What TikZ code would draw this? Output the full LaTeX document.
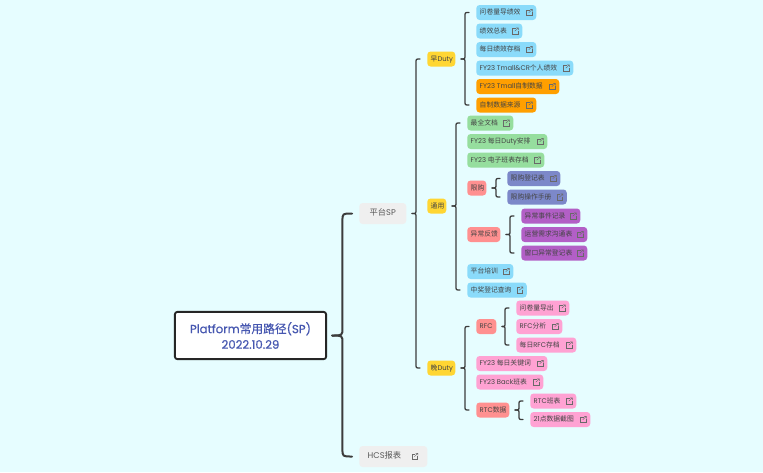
\documentclass[tikz,border=0pt]{standalone}
\usepackage{fontspec}
\usetikzlibrary{calc}
\setmainfont{Poppins}
\newfontfamily\cjk{Noto Sans CJK SC}
\newfontfamily\titlelatin[FakeBold=0.5]{Poppins}
\newfontfamily\titlecjk[FakeBold=0.5]{Noto Sans CJK SC}
\newcommand\Z[1]{{\cjk #1}}
\definecolor{bgc}{HTML}{E6FDFF}
\definecolor{cblue}{HTML}{8ADBFA}
\definecolor{corange}{HTML}{FF9F00}
\definecolor{cgreen}{HTML}{96DE9E}
\definecolor{cindigo}{HTML}{7C88C9}
\definecolor{cpurple}{HTML}{B25FC6}
\definecolor{cpink}{HTML}{FFA2D3}
\definecolor{csalmon}{HTML}{FF9090}
\definecolor{cyellow}{HTML}{FFD633}
\definecolor{cgrey}{HTML}{EFEFEF}
\definecolor{ctitle}{HTML}{4657B0}
\definecolor{ctext}{HTML}{444444}
\definecolor{cline}{HTML}{3C3C3C}
\tikzset{
  x=0.75pt,y=-0.75pt,
  tag/.style={rounded corners=2.5pt,inner ysep=0pt,inner xsep=2.6pt,minimum height=11.25pt,
    anchor=west,font=\fontsize{5.1}{6}\selectfont,text=ctext,text height=4pt,text depth=1pt},
  topic/.style={rounded corners=2.5pt,fill=cgrey,inner ysep=0pt,inner xsep=0pt,minimum height=15.75pt,
    anchor=west,font=\fontsize{6.2}{7}\selectfont,text=ctext!90!white,text height=4.6pt,text depth=1pt},
  root/.style={rounded corners=2pt,draw=black!85,line width=1.4pt,fill=white,
    minimum width=113.5pt,minimum height=35.5pt,inner sep=0pt,align=center,text=ctitle,
    font=\fontsize{8.8}{11.7}\selectfont\titlelatin},
  mainline/.style={draw=cline,line width=1.5pt},
  subline/.style={draw=cline,line width=0.95pt},
  linkicon/.pic={
    \draw[ctext!80!white,line width=0.3pt] (0.5,-2.5) -- (-3,-2.5) -- (-3,3) -- (2.5,3) -- (2.5,-0.3);
    \draw[ctext!80!white,line width=0.3pt] (-0.5,0.2) -- (3.2,-3.2) (0.8,-3.2) -- (3.2,-3.2) -- (3.2,-1);
  }
}
% #1 name, #2 left, #3 right, #4 centre y, #5 fill, #6 text
\newcommand\tagbox[6]{%
  \pgfmathsetlengthmacro\tagw{(#3-#2)*0.75pt-5.2pt}%
  \node[tag,fill=#5] (#1) at (#2,#4) {\makebox[\tagw][l]{#6}};}
\newcommand\linkbox[6]{%
  \tagbox{#1}{#2}{#3}{#4}{#5}{#6}%
  \pic at ($(#1.east)+(-7.3,0)$) {linkicon};}
% #1 parent, #2 child, #3 style, #4 tip gap, #5 spine offset, #6 end offset, #7 radius
\newcommand\bracelink[7]{%
  \draw[#3,line cap=round] let \p1=(#1.east),\p2=(#2.west),\n1={sign(\y2-\y1)} in
    ({\x1+#4},\y1) .. controls ({\x2-#5},\y1) and ({\x2-#5},\y1) .. ({\x2-#5},{\y1+\n1*#7})
    -- ({\x2-#5},{\y2-\n1*#7}) .. controls ({\x2-#5},\y2) and ({\x2-#5},\y2) .. ({\x2-#6},\y2);}
\newcommand\sublink[2]{\bracelink{#1}{#2}{subline}{4.1pt}{8.25pt}{5.25pt}{2.8pt}}
\begin{document}
\begin{tikzpicture}
\useasboundingbox[fill=bgc] (0,0) rectangle (763,472);
\node[root] (root) at (250.5,335.5) {Platform{\titlecjk 常用路径}(SP)\\2022.10.29};
\node[topic,minimum width=35.25pt] (sp) at (359,213.5) {\Z{平台}SP};
\node[topic,minimum width=51pt,inner xsep=0pt] (hcs) at (359,456.5) {\makebox[51pt][l]{\hspace{6.3pt}HCS\Z{报表}}};
\pic at ($(hcs.east)+(-12.7,0)$) {linkicon};

\tagbox{early}{427}{455}{59}{cyellow}{\Z{早}Duty}
\tagbox{common}{427}{446}{206}{cyellow}{\Z{通用}}
\tagbox{late}{427}{455}{368}{cyellow}{\Z{晚}Duty}

\linkbox{e1}{476}{536}{12.5}{cblue}{\Z{问卷量导绩效}}
\linkbox{e2}{476}{522}{31}{cblue}{\Z{绩效总表}}
\linkbox{e3}{476}{536}{49.5}{cblue}{\Z{每日绩效存档}}
\linkbox{e4}{476}{573}{68}{cblue}{FY23 Tmall\&CR\Z{个人绩效}}
\linkbox{e5}{476}{559}{86.5}{corange}{FY23 Tmall\Z{自制数据}}
\linkbox{e6}{476}{536}{105}{corange}{\Z{自制数据来源}}

\linkbox{c1}{467}{513}{123}{cgreen}{\Z{最全文档}}
\linkbox{c2}{467}{547}{141.5}{cgreen}{FY23 \Z{每日}Duty\Z{安排}}
\linkbox{c3}{467}{544}{160}{cgreen}{FY23 \Z{电子班表存档}}
\tagbox{c4}{467}{486}{188}{csalmon}{\Z{限购}}
\linkbox{c41}{507}{560}{178.5}{cindigo}{\Z{限购登记表}}
\linkbox{c42}{507}{566.5}{197}{cindigo}{\Z{限购操作手册}}
\tagbox{c5}{467}{500}{234.5}{csalmon}{\Z{异常反馈}}
\linkbox{c51}{521}{580}{216}{cpurple}{\Z{异常事件记录}}
\linkbox{c52}{521}{587}{234.5}{cpurple}{\Z{运营需求沟通表}}
\linkbox{c53}{521}{587}{253}{cpurple}{\Z{窗口异常登记表}}
\linkbox{c6}{467}{513}{271.5}{cblue}{\Z{平台培训}}
\linkbox{c7}{467}{526.5}{290}{cblue}{\Z{中奖登记查询}}

\tagbox{l1}{476}{496}{326.5}{csalmon}{RFC}
\linkbox{l11}{516}{569}{308}{cpink}{\Z{问卷量导出}}
\linkbox{l12}{516}{562}{326.5}{cpink}{RFC\Z{分析}}
\linkbox{l13}{516}{576}{345}{cpink}{\Z{每日}RFC\Z{存档}}
\linkbox{l2}{476}{547}{363.5}{cpink}{FY23 \Z{每日关键词}}
\linkbox{l3}{476}{543}{382}{cpink}{FY23 Back\Z{班表}}
\tagbox{l4}{476}{509}{410}{csalmon}{RTC\Z{数据}}
\linkbox{l41}{530}{576}{401}{cpink}{RTC\Z{班表}}
\linkbox{l42}{530}{590}{419.5}{cpink}{21\Z{点数据截图}}

\bracelink{root}{sp}{mainline}{3.75pt}{12.4pt}{5.25pt}{5.6pt}
\bracelink{root}{hcs}{mainline}{3.75pt}{12.4pt}{5.25pt}{5.6pt}
\sublink{sp}{early}\sublink{sp}{late}
\sublink{early}{e1}\sublink{early}{e6}
\sublink{common}{c1}\sublink{common}{c7}
\sublink{c4}{c41}\sublink{c4}{c42}
\sublink{c5}{c51}\sublink{c5}{c53}
\sublink{late}{l1}\sublink{late}{l4}
\sublink{l1}{l11}\sublink{l1}{l13}
\sublink{l4}{l41}\sublink{l4}{l42}
\end{tikzpicture}
\end{document}
